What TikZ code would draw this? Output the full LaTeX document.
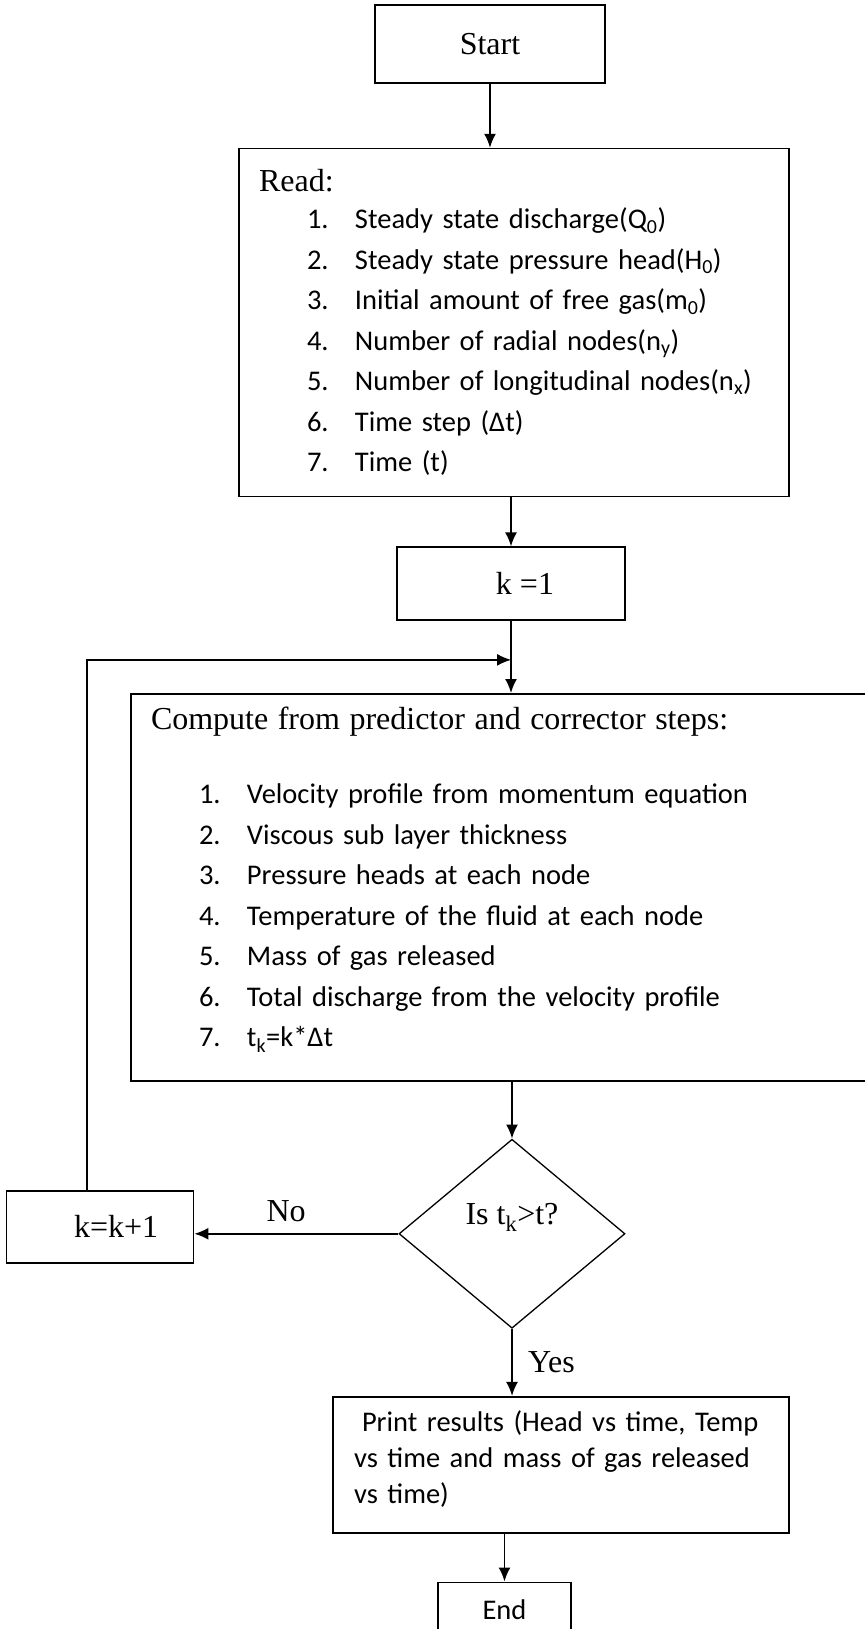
\documentclass[tikz,border=0pt]{standalone}
\usepackage{fontspec}
\setmainfont{Liberation Serif}
\newfontfamily\bodyfont{Carlito}
\usepackage{tikz}
\usetikzlibrary{arrows.meta,shapes.geometric,calc,positioning}

\newcommand{\litem}[2]{\hspace*{48pt}\makebox[48pt][l]{#1}#2}

\begin{document}
\begin{tikzpicture}[x=1pt, y=1pt, node distance=60pt, >={Latex[length=14pt,width=12pt]},
block/.style = {draw, rectangle, line width=1.6pt, minimum height=73pt, align=center, font=\fontsize{32}{38}\selectfont},
lblock/.style = {draw, rectangle, line width=1.6pt, align=left, inner xsep=20pt, font=\bodyfont\fontsize{28.5}{40.5}\selectfont},
dblock/.style = {draw, diamond, line width=1.3pt, minimum width=226pt, minimum height=189pt, text depth=40pt, font=\fontsize{32}{38}\selectfont},
flow/.style = {line width=1.8pt, ->},
                    ]
    \useasboundingbox (0,0) rectangle (864,-1629);
    \node [block, minimum width=230pt, minimum height=78pt]         (start) at (490,-44) {Start};
    \node [lblock, text width=510pt, minimum height=348pt, below=64pt of start, xshift=24pt]       (read){%
        {\rmfamily\fontsize{32}{38}\selectfont Read:}\\[-3pt]
        \litem{1.}{Steady state discharge(Q\textsubscript{0})}\\
        \litem{2.}{Steady state pressure head(H\textsubscript{0})}\\
        \litem{3.}{Initial amount of free gas(m\textsubscript{0})}\\
        \litem{4.}{Number of radial nodes(n\textsubscript{y})}\\
        \litem{5.}{Number of longitudinal nodes(n\textsubscript{x})}\\
        \litem{6.}{Time step (Δt)}\\
        \litem{7.}{Time (t)}};
    \node [block, minimum width=228pt, below=49pt of read, xshift=-3pt]      (k1){\hspace*{28pt}k =1};
    \node [lblock, text width=709pt, minimum height=387pt, below=72pt of k1, xshift=-5.5pt]      (compute){%
        {\rmfamily\fontsize{32}{38}\selectfont Compute from predictor and corrector steps:}\\[34pt]
        \litem{1.}{Velocity profile from momentum equation}\\
        \litem{2.}{Viscous sub layer thickness}\\
        \litem{3.}{Pressure heads at each node}\\
        \litem{4.}{Temperature of the fluid at each node}\\
        \litem{5.}{Mass of gas released}\\
        \litem{6.}{Total discharge from the velocity profile}\\
        \litem{7.}{t\textsubscript{k}=k*Δt\rule[-21pt]{0pt}{1pt}}};
    \node [dblock, below=57pt of compute, xshift=6.5pt]         (dec){Is t\textsubscript{k}>t?};
    \node [block, minimum width=187pt, minimum height=72pt, left=204pt of dec, yshift=7pt]    (kk){\hspace*{32pt}k=k+1};
    \node [lblock, inner xsep=21pt, text width=414pt, minimum height=136pt, font=\bodyfont\fontsize{28.5}{36}\selectfont, below=67pt of dec, xshift=49pt]  (print){%
        \hspace*{8pt}Print results (Head vs time, Temp\\
        vs time and mass of gas released\\
        vs time)\rule[-16pt]{0pt}{1pt}};
    \node [block, minimum width=133pt, minimum height=55pt, font=\bodyfont\fontsize{28.5}{36}\selectfont, below=48pt of print, xshift=-56.5pt]  (end){End};

    \coordinate (join) at ($(k1.south)!0.54!(k1.south |- compute.north)$);
    \draw[flow] (start) -- (start.south |- read.north);
    \draw[flow] (k1.north |- read.south) -- (k1);
    \draw[flow] (k1) -- (k1.south |- compute.north);
    \draw[line width=1.3pt,->] ([xshift=-13pt]kk.north) |- (join);
    \draw[flow] (compute.south -| dec.north) -- (dec);
    \draw[flow] (dec.west) -- (dec.west -| kk.east) node[pos=0.55, above=8pt, font=\fontsize{32}{38}\selectfont]{No};
    \draw[flow] (dec.south) -- (dec.south |- print.north) node[midway, right=12pt, font=\fontsize{32}{38}\selectfont]{Yes};
    \draw[flow] (print.south -| end.north) -- (end);
\end{tikzpicture}
\end{document}
